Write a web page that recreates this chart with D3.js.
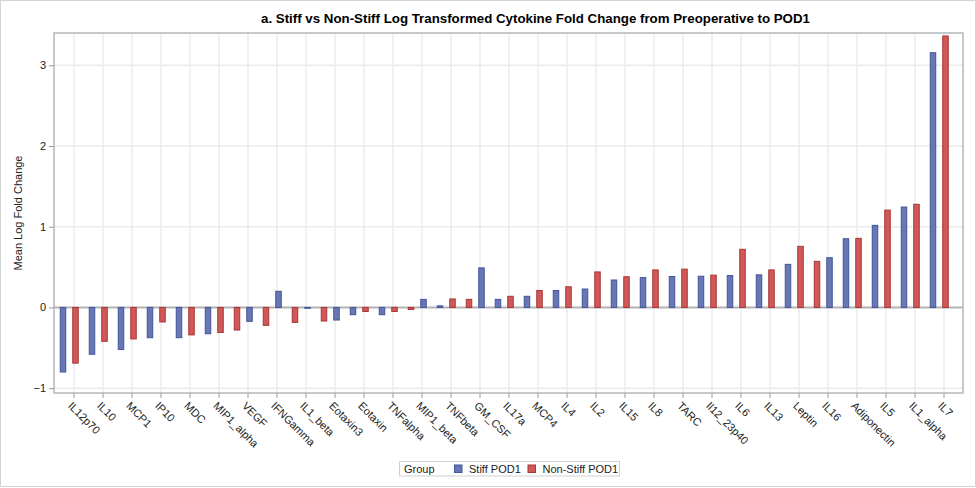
<!DOCTYPE html>
<html>
<head>
<meta charset="utf-8">
<script src="https://cdn.jsdelivr.net/npm/d3@7"></script>
<style>
  html, body { margin: 0; padding: 0; background: #fff; }
  svg { display: block; font-family: Arial, "Liberation Sans", sans-serif; }
</style>
</head>
<body>
<svg id="chart" width="976" height="488"></svg>
<script>
const categories = ["IL12p70","IL10","MCP1","IP10","MDC","MIP1_alpha","VEGF","IFNGamma","IL1_beta","Eotaxin3","Eotaxin","TNFalpha","MIP1_beta","TNFbeta","GM_CSF","IL17a","MCP4","IL4","IL2","IL15","IL8","TARC","Il12_23p40","IL6","IL13","Leptin","IL16","Adiponectin","IL5","IL1_alpha","IL7"];
const stiffValues = [-0.80,-0.58,-0.52,-0.375,-0.375,-0.326,-0.172,0.20,-0.01,-0.156,-0.09,-0.09,0.10,0.02,0.49,0.10,0.138,0.21,0.228,0.34,0.37,0.383,0.387,0.395,0.404,0.534,0.616,0.851,1.017,1.244,3.156];
const nonStiffValues = [-0.69,-0.42,-0.39,-0.18,-0.34,-0.31,-0.28,-0.222,-0.185,-0.168,-0.05,-0.05,-0.025,0.105,0.10,0.138,0.21,0.256,0.44,0.38,0.465,0.474,0.40,0.72,0.465,0.757,0.571,0.856,1.206,1.278,3.363];
const groups = ["Stiff POD1","Non-Stiff POD1"];
const yTicks = [-1,0,1,2,3];

const fills = {"Stiff POD1":"#6877b4","Non-Stiff POD1":"#d05858"};
const strokes = {"Stiff POD1":"#42549a","Non-Stiff POD1":"#a83636"};

const svg = d3.select("#chart");
const L = 54, R = 963, T = 33, B = 393;

// outer border
svg.append("rect").attr("x",0.5).attr("y",0.5).attr("width",975).attr("height",486)
  .attr("fill","none").attr("stroke","#d4d4d4");

const x = d3.scaleBand().domain(categories).range([L+5.5, R-4.5]);
const half = x.bandwidth()/2;
const slot = d3.scalePoint().domain(["lo","hi"]).range([-11, 1.5]);
const y = d3.scaleLinear().domain([-1.06, 3.40]).range([B, T]);

// gridlines
const g = svg.append("g");
g.selectAll("line.vg").data(categories).join("line")
  .attr("x1", d => x(d)+half).attr("x2", d => x(d)+half)
  .attr("y1", T).attr("y2", B).attr("stroke","#ebebeb").attr("stroke-width",1.5);
g.selectAll("line.hg").data(yTicks).join("line")
  .attr("x1", L).attr("x2", R).attr("y1", d => y(d)).attr("y2", d => y(d))
  .attr("stroke","#ebebeb").attr("stroke-width",1.5);

// zero reference line
svg.append("line").attr("x1",L).attr("x2",R).attr("y1",y(0)).attr("y2",y(0))
  .attr("stroke","#b4b4b4").attr("stroke-width",2);

// bars
const bars = [];
categories.forEach((c,i) => {
  const s = stiffValues[i], n = nonStiffValues[i];
  const sLo = s <= n;
  bars.push({cat:c, group:groups[0], value:s, slot: sLo ? "lo" : "hi"});
  bars.push({cat:c, group:groups[1], value:n, slot: sLo ? "hi" : "lo"});
});
const bw = 5.5;
svg.append("g").selectAll("rect").data(bars).join("rect")
  .attr("x", d => x(d.cat)+half+slot(d.slot)-bw/2)
  .attr("width", bw)
  .attr("y", d => Math.min(y(d.value), y(0)))
  .attr("height", d => Math.abs(y(d.value)-y(0)))
  .attr("fill", d => fills[d.group])
  .attr("stroke", d => strokes[d.group])
  .attr("stroke-width", 1);

// frame
svg.append("rect").attr("x",L).attr("y",T).attr("width",R-L).attr("height",B-T)
  .attr("fill","none").attr("stroke","#b3b8bd").attr("stroke-width",1.5);

// y axis
const yAxis = d3.axisLeft(y).tickValues(yTicks).tickSize(5).tickPadding(3).tickFormat(d3.format("d"));
const ya = svg.append("g").attr("transform",`translate(${L},0)`).call(yAxis);
ya.select(".domain").remove();
ya.selectAll(".tick line").attr("stroke","#9a9a9a");
ya.selectAll(".tick text").attr("font-size",11).attr("fill","#222").attr("font-family","Arial, 'Liberation Sans', sans-serif");

// x axis
const xAxis = d3.axisBottom(x).tickSize(5).tickPadding(0);
const xa = svg.append("g").attr("transform",`translate(0,${B})`).call(xAxis);
xa.select(".domain").remove();
xa.selectAll(".tick line").attr("stroke","#9a9a9a");
xa.selectAll(".tick text")
  .attr("font-size",11).attr("fill","#222").attr("font-family","Arial, 'Liberation Sans', sans-serif")
  .attr("text-anchor","start").attr("dy",null).attr("y",null)
  .attr("transform","translate(-1,8) rotate(45)")
  .attr("dy","0.72em");

// axis label
svg.append("text").attr("transform",`translate(22,${(T+B)/2}) rotate(-90)`)
  .attr("text-anchor","middle").attr("font-size",11).attr("fill","#222")
  .text("Mean Log Fold Change");

// title
svg.append("text").attr("x",535.5).attr("y",23).attr("text-anchor","middle")
  .attr("font-size",13.3).attr("font-weight","bold").attr("fill","#000")
  .text("a. Stiff vs Non-Stiff Log Transformed Cytokine Fold Change from Preoperative to POD1");

// legend
const lg = svg.append("g");
lg.append("rect").attr("x",399.5).attr("y",461.5).attr("width",220).attr("height",14.5)
  .attr("fill","#fff").attr("stroke","#d0d0d0");
lg.append("text").attr("x",404).attr("y",472.5).attr("font-size",11).attr("fill","#222").text("Group");
const legX = d3.scalePoint().domain(groups).range([454.5, 528]);
groups.forEach(gname => {
  lg.append("rect").attr("x",legX(gname)).attr("y",465).attr("width",7.5).attr("height",7.5)
    .attr("fill",fills[gname]).attr("stroke",strokes[gname]).attr("stroke-width",1);
  lg.append("text").attr("x",legX(gname)+14.5).attr("y",472.5).attr("font-size",11).attr("fill","#222").text(gname);
});
</script>
</body>
</html>
